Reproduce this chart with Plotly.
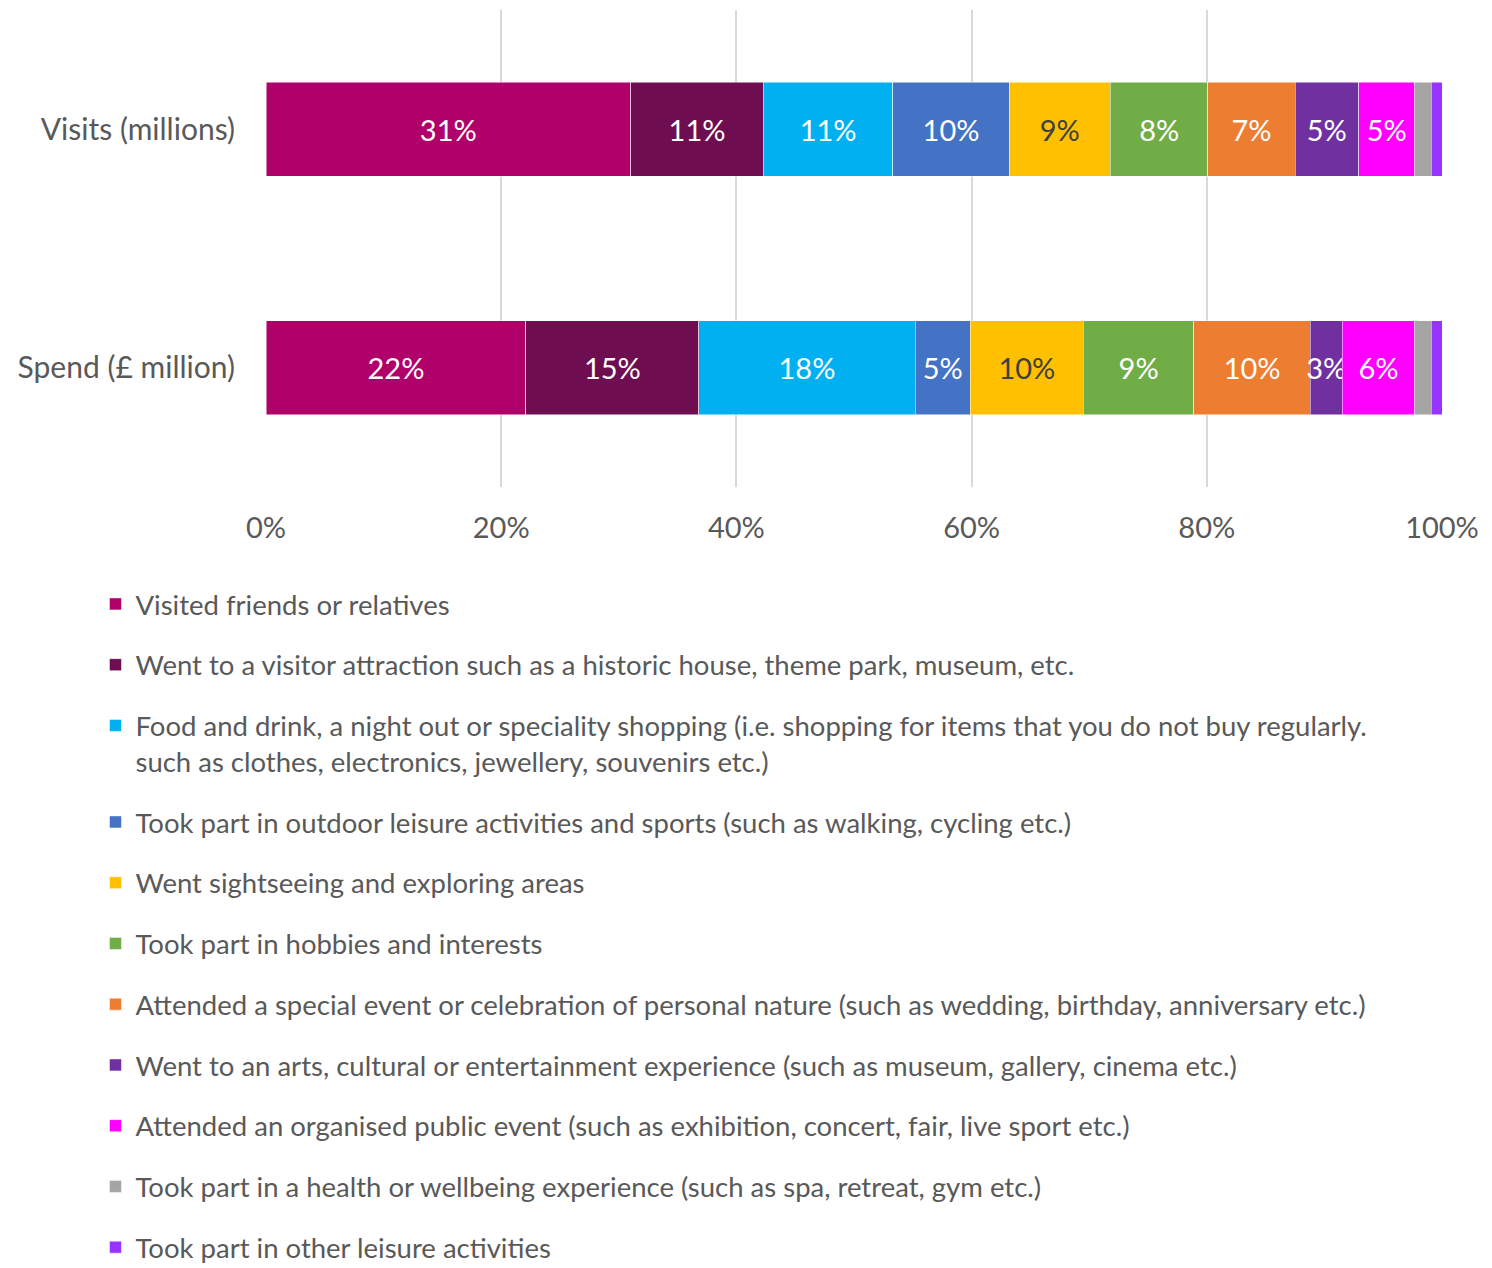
import plotly.graph_objects as go

categories = ["Visits (millions)", "Spend (£ million)"]

series_names = [
    "Visited friends or relatives",
    "Went to a visitor attraction such as a historic house, theme park, museum, etc.",
    "Food and drink, a night out or speciality shopping (i.e. shopping for items that you do not buy regularly.<br>such as clothes, electronics, jewellery, souvenirs etc.)",
    "Took part in outdoor leisure activities and sports (such as walking, cycling etc.)",
    "Went sightseeing and exploring areas",
    "Took part in hobbies and interests",
    "Attended a special event or celebration of personal nature (such as wedding, birthday, anniversary etc.)",
    "Went to an arts, cultural or entertainment experience (such as museum, gallery, cinema etc.)",
    "Attended an organised public event (such as exhibition, concert, fair, live sport etc.)",
    "Took part in a health or wellbeing experience (such as spa, retreat, gym etc.)",
    "Took part in other leisure activities",
]

visits = [31.0, 11.3, 11.0, 9.9, 8.6, 8.3, 7.4, 5.4, 4.8, 1.4, 0.9]
spend = [22.1, 14.7, 18.4, 4.7, 9.6, 9.4, 9.9, 2.7, 6.2, 1.4, 0.9]

visits_labels = ["31%", "11%", "11%", "10%", "9%", "8%", "7%", "5%", "5%", "", ""]
spend_labels = ["22%", "15%", "18%", "5%", "10%", "9%", "10%", "3%", "6%", "", ""]

x_tick_values = [0, 20, 40, 60, 80, 100]
x_tick_labels = ["0%", "20%", "40%", "60%", "80%", "100%"]

colors = ["#B0006A", "#6E0D50", "#00B0F0", "#4472C4", "#FFC000", "#70AD47",
          "#ED7D31", "#7030A0", "#FF00FF", "#A5A5A5", "#9933FF"]
text_colors = ["white", "white", "white", "white", "#404040", "white",
               "white", "white", "white", "white", "white"]

FONT = "Lato"

fig = go.Figure()
for i, name in enumerate(series_names):
    fig.add_trace(go.Bar(
        y=categories,
        x=[visits[i], spend[i]],
        name=name,
        orientation="h",
        marker=dict(color=colors[i], line=dict(color="white", width=0.5)),
        text=[visits_labels[i], spend_labels[i]],
        textposition="inside",
        insidetextanchor="middle",
        textangle=0,
        textfont=dict(color=text_colors[i], size=29, family=FONT),
        legendgroup=f"g{i}",
        hoverinfo="x+name",
    ))

fig.update_layout(
    barmode="stack",
    bargap=0.605,
    width=1492,
    height=1260,
    margin=dict(l=258, r=58, t=2, b=781, autoexpand=False),
    plot_bgcolor="white",
    paper_bgcolor="white",
    font=dict(family=FONT, color="#595959", size=27),
    uniformtext=dict(minsize=29, mode="show"),
    xaxis=dict(
        range=[0, 100],
        tickvals=x_tick_values,
        ticktext=x_tick_labels,
        showgrid=True,
        gridcolor="#D9D9D9",
        gridwidth=2,
        zeroline=False,
        showline=False,
        ticks="",
        ticklabelstandoff=21,
        tickfont=dict(size=29, color="#595959", family=FONT),
        fixedrange=True,
    ),
    yaxis=dict(
        autorange="reversed",
        ticks="",
        showline=False,
        ticklabelstandoff=30,
        tickfont=dict(size=30, color="#595959", family=FONT),
    ),
    showlegend=True,
    legend=dict(
        orientation="v",
        x=-0.145,
        xanchor="left",
        y=-0.194,
        yanchor="top",
        traceorder="grouped",
        tracegroupgap=22,
        valign="top",
        maxheight=900,
        font=dict(size=27.5, color="#595959", family=FONT),
        bgcolor="rgba(0,0,0,0)",
    ),
)

fig.write_html("out.html")
